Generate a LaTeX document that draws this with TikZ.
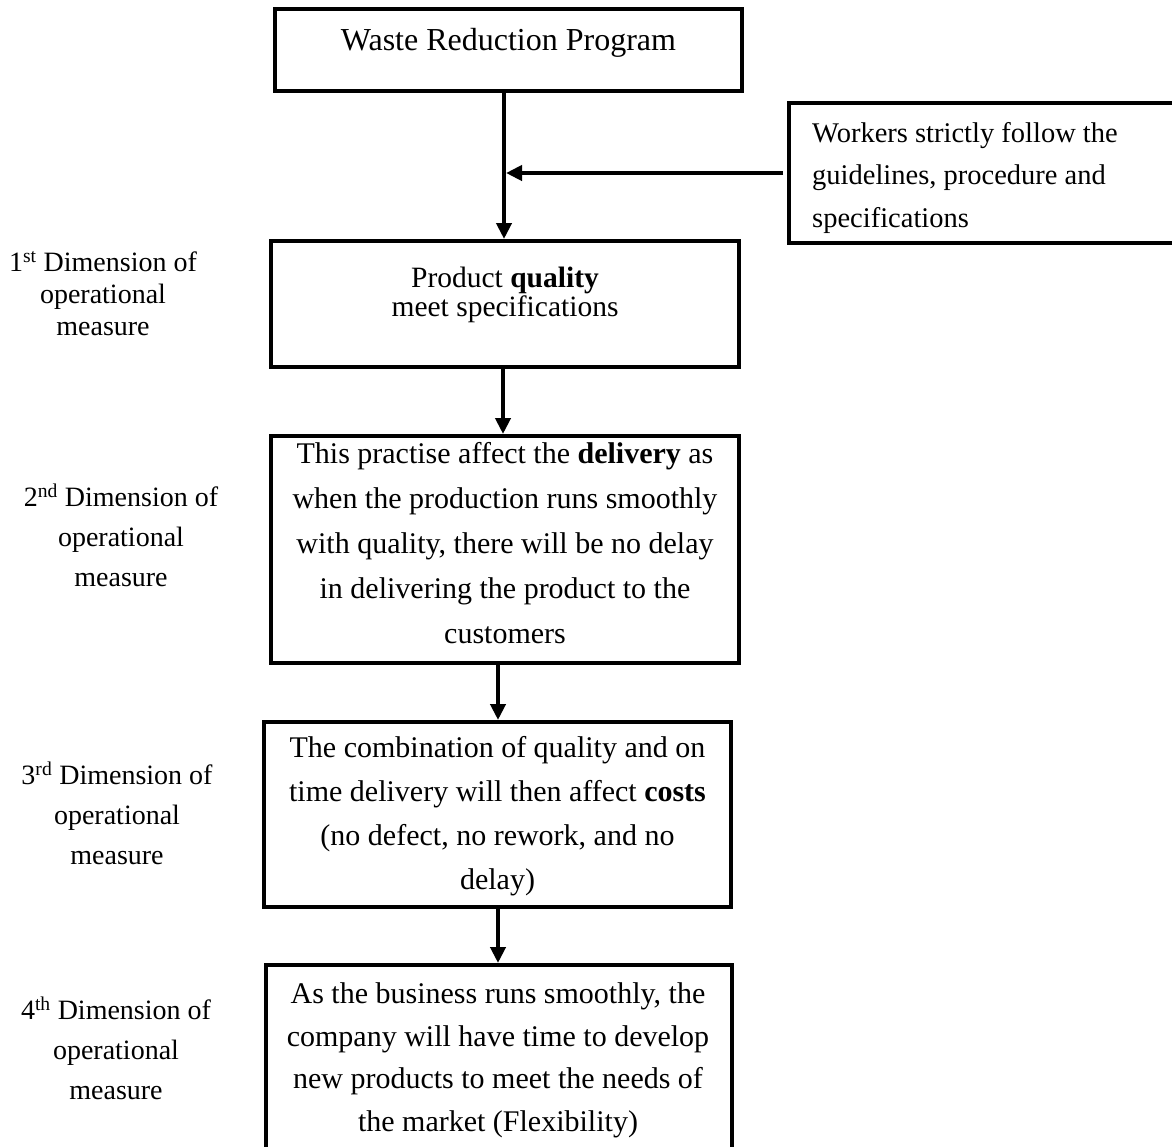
\documentclass[tikz,border=0pt]{standalone}
\usepackage{fontspec}
\setmainfont{Liberation Serif}
\usetikzlibrary{arrows.meta}
\begin{document}
\begin{tikzpicture}[x=1pt,y=-1pt,
  frame/.style={draw, line width=4pt, anchor=north west, inner sep=0pt},
  flow/.style={line width=4pt, -{Triangle[length=16pt,width=15pt]}},
  strutted/.style={inner sep=0pt, execute at begin node=\strut, execute at end node=\strut},
  bodytext/.style={strutted, align=center, font=\fontsize{30}{45}\selectfont},
  dimtext/.style={strutted, align=center, font=\fontsize{28}{40}\selectfont}]
\useasboundingbox (0,0) rectangle (1172,1146);
\clip (0,0) rectangle (1172,1146);

% frames of the flow chart
\node[frame, minimum width=467pt, minimum height=82pt]  (b1)   at (273,7)   {};
\node[frame, minimum width=420pt, minimum height=140pt] (work) at (787,101) {};
\node[frame, minimum width=468pt, minimum height=126pt] (b2)   at (269,239) {};
\node[frame, minimum width=468pt, minimum height=227pt] (b3)   at (269,434) {};
\node[frame, minimum width=467pt, minimum height=185pt] (b4)   at (262,720) {};
\node[frame, minimum width=466pt, minimum height=200pt] (b5)   at (264,963) {};

% texts inside the frames
\node[strutted, font=\fontsize{32}{45}\selectfont] (t1) at (508.5,41) {Waste Reduction Program};
\node[strutted, align=left, anchor=west, font=\fontsize{28.5}{42.5}\selectfont] (tw) at (812,181.2)
  {Workers strictly follow the\\guidelines, procedure and\\specifications};
\node[strutted, align=center, font=\fontsize{29.5}{29}\selectfont] (t2) at (505,296)
  {Product \textbf{quality}\\meet specifications};
\node[bodytext] (t3) at (505,549.4)
  {This practise affect the \textbf{delivery} as\\when the production runs smoothly\\with quality, there will be no delay\\in delivering the product to the\\customers};
\node[bodytext, font=\fontsize{30}{44}\selectfont] (t4) at (497.5,819.5)
  {The combination of quality and on\\time delivery will then affect \textbf{costs}\\(no defect, no rework, and no\\delay)};
\node[bodytext, font=\fontsize{30}{42.5}\selectfont] (t5) at (498,1063.6)
  {As the business runs smoothly, the\\company will have time to develop\\new products to meet the needs of\\the market (Flexibility)};

% dimension labels on the left
\node[dimtext, font=\fontsize{28}{32}\selectfont] (d1) at (103,298.5)
  {1\textsuperscript{st} Dimension of\\operational\\measure};
\node[dimtext] (d2) at (121,541) {2\textsuperscript{nd} Dimension of\\operational\\measure};
\node[dimtext] (d3) at (117,819) {3\textsuperscript{rd} Dimension of\\operational\\measure};
\node[dimtext] (d4) at (116,1054) {4\textsuperscript{th} Dimension of\\operational\\measure};

% connectors
\coordinate (xa) at (504,0);
\coordinate (xb) at (503,0);
\coordinate (xc) at (498,0);
\coordinate (jn) at (506,173);
\draw[flow] (b1.south -| xa) -- (b2.north -| xa);
\draw[flow] ([xshift=-4pt]work.west) -- (jn);
\draw[flow] (b2.south -| xb) -- (b3.north -| xb);
\draw[flow] (b3.south -| xc) -- (b4.north -| xc);
\draw[flow] (b4.south -| xc) -- (b5.north -| xc);
\end{tikzpicture}
\end{document}
